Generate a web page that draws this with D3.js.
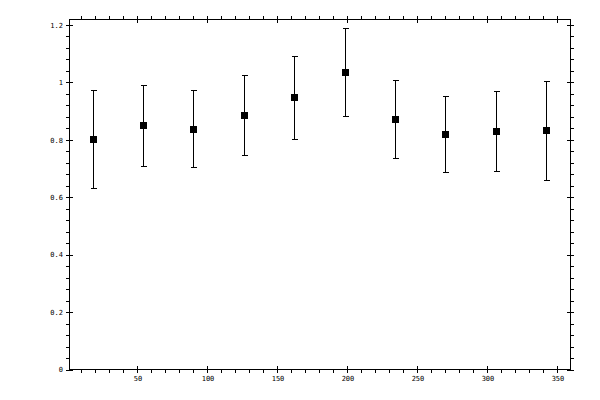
<!DOCTYPE html>
<head>
<meta charset="utf-8">
<title>Error Bar Chart</title>
<script src="https://d3js.org/d3.v7.min.js"></script>
<style>
  body { margin: 0; background: #fff; }
  .axis text { font-family: "DejaVu Sans Mono", monospace; font-size: 7px; fill: #000; }
  .axis line { stroke: #000; stroke-width: 1px; shape-rendering: crispEdges; }
  .axis path { display: none; }
</style>
</head>
<body>
<div id="container"></div>
<script>
//----------------------------DATA------------------------------//
const xValues = [18, 54, 90, 126, 162, 198, 234, 270, 306, 342];
const means   = [0.802, 0.850, 0.837, 0.885, 0.948, 1.035, 0.871, 0.819, 0.830, 0.833];
const upper   = [0.971, 0.990, 0.972, 1.025, 1.091, 1.189, 1.007, 0.952, 0.969, 1.004];
const lower   = [0.631, 0.708, 0.704, 0.746, 0.802, 0.882, 0.736, 0.687, 0.690, 0.659];
const xMajor  = [50, 100, 150, 200, 250, 300, 350];
const yMajor  = [0, 0.2, 0.4, 0.6, 0.8, 1, 1.2];

const points = xValues.map(function(x, i) {
    return { x: x, mean: means[i], hi: upper[i], lo: lower[i] };
});

//----------------------------SETUP-----------------------------//
const width = 600;
const height = 400;
const plotLeft = 69.5, plotRight = 570.5, plotTop = 19.5, plotBottom = 369.5;
const tick = 3.5;

const svg = d3.select("#container").append("svg")
    .attr("width", width)
    .attr("height", height);

const x = d3.scaleLinear().domain([1.43, 359.3]).range([plotLeft, plotRight]);
const y = d3.scaleLinear().domain([0, 1.219]).range([plotBottom, plotTop]);

// minor ticks every 10 on x, every 0.04 on y
const xMinor = d3.range(10, 360, 10).filter(function(d) { return d % 50 !== 0; });
const yMinor = d3.range(1, 31).map(function(d) { return d * 0.04; })
    .filter(function(d) { return Math.abs(d * 5 - Math.round(d * 5)) > 1e-6; });

//-----------------------------AXES-----------------------------//
function drawAxis(axisFn, scale, pos, major, minor, labels) {
    // outside major with labels
    svg.append("g").attr("class", "axis").attr("transform", pos)
        .call(axisFn(scale).tickValues(major).tickSize(tick).tickSizeOuter(0)
            .tickPadding(3)
            .tickFormat(labels ? d3.format("~g") : ""));
    // inside half of major
    svg.append("g").attr("class", "axis").attr("transform", pos)
        .call(axisFn(scale).tickValues(major).tickSize(-tick).tickSizeOuter(0).tickFormat(""));
    // minor, outside only
    svg.append("g").attr("class", "axis").attr("transform", pos)
        .call(axisFn(scale).tickValues(minor).tickSize(tick).tickSizeOuter(0).tickFormat(""));
}

drawAxis(d3.axisBottom, x, "translate(0," + plotBottom + ")", xMajor, xMinor, true);
drawAxis(d3.axisTop, x, "translate(0," + plotTop + ")", xMajor, xMinor, false);
drawAxis(d3.axisLeft, y, "translate(" + plotLeft + ",0)", yMajor, yMinor, true);
drawAxis(d3.axisRight, y, "translate(" + plotRight + ",0)", yMajor, yMinor, false);

svg.append("rect")
    .attr("x", plotLeft).attr("y", plotTop)
    .attr("width", plotRight - plotLeft).attr("height", plotBottom - plotTop)
    .attr("fill", "none").attr("stroke", "#000")
    .attr("shape-rendering", "crispEdges");

//--------------------------ERROR BARS--------------------------//
const cap = 3;
const px = function(d) { return Math.round(x(d.x)) + 0.5; };

const bars = svg.selectAll(".bar").data(points).enter().append("g")
    .attr("class", "bar")
    .attr("stroke", "#000")
    .attr("shape-rendering", "crispEdges");

bars.append("line")
    .attr("x1", px).attr("x2", px)
    .attr("y1", function(d) { return y(d.hi); })
    .attr("y2", function(d) { return y(d.lo); });

bars.append("line")
    .attr("x1", function(d) { return px(d) - cap; })
    .attr("x2", function(d) { return px(d) + cap; })
    .attr("y1", function(d) { return y(d.hi); })
    .attr("y2", function(d) { return y(d.hi); });

bars.append("line")
    .attr("x1", function(d) { return px(d) - cap; })
    .attr("x2", function(d) { return px(d) + cap; })
    .attr("y1", function(d) { return y(d.lo); })
    .attr("y2", function(d) { return y(d.lo); });

bars.append("rect")
    .attr("x", function(d) { return px(d) - 3.5; })
    .attr("y", function(d) { return y(d.mean) - 3.5; })
    .attr("width", 7).attr("height", 7)
    .attr("fill", "#000").attr("stroke", "none");
</script>
</body>
